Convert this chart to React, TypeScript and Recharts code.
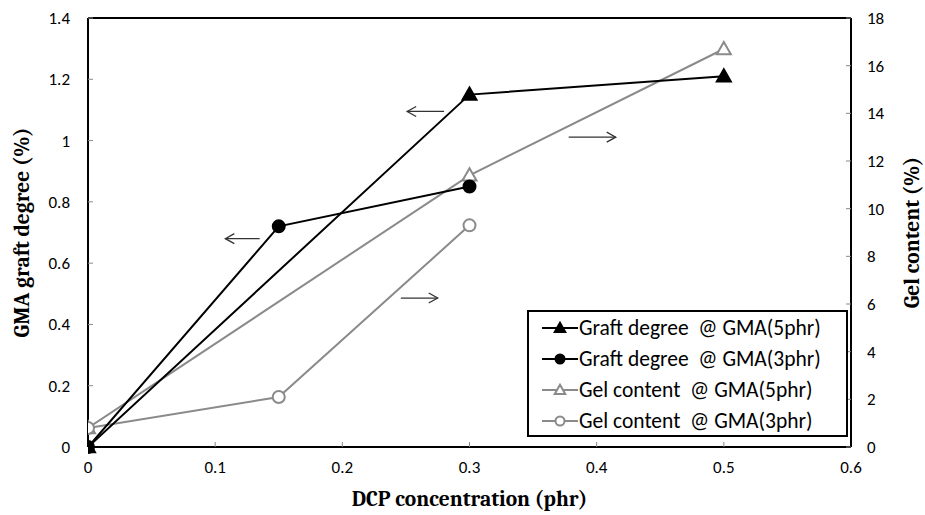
import { LineChart, Line, XAxis, YAxis, ReferenceLine } from "recharts"

const dcp5 = [0, 0.3, 0.5]
const dcp3 = [0, 0.15, 0.3]
const graft5 = [0, 1.15, 1.21]
const graft3 = [0, 0.72, 0.85]
const gel5 = [0.8, 11.4, 16.7]
const gel3 = [0.8, 2.1, 9.3]

const xTicks = [0, 0.1, 0.2, 0.3, 0.4, 0.5, 0.6]
const leftTicks = [0, 0.2, 0.4, 0.6, 0.8, 1, 1.2, 1.4]
const rightTicks = [0, 2, 4, 6, 8, 10, 12, 14, 16, 18]

// arrows: [x1, x2, y, axis, direction]
const arrows: [number, number, number, string, "left" | "right"][] = [
  [0.108, 0.135, 0.68, "left", "left"],
  [0.251, 0.28, 1.095, "left", "left"],
  [0.378, 0.415, 13.0, "right", "right"],
  [0.246, 0.275, 6.25, "right", "right"],
]

const legendItems = [
  { name: "Graft degree  @ GMA(5phr)", color: "#000", marker: "tri", filled: true },
  { name: "Graft degree  @ GMA(3phr)", color: "#000", marker: "circle", filled: true },
  { name: "Gel content  @ GMA(5phr)", color: "#8a8a8a", marker: "tri", filled: false },
  { name: "Gel content  @ GMA(3phr)", color: "#8a8a8a", marker: "circle", filled: false },
]

const toRows = (xs: number[], ys: number[]) => xs.map((x, i) => ({ x, y: ys[i] }))

const GRAY = "#8a8a8a"
const serif = "Cambria, 'Liberation Serif', 'DejaVu Serif', serif"
const sans = "Calibri, 'Open Sans', sans-serif"

function Marker({ cx, cy, kind, color, filled, size = 1 }: any) {
  if (cx == null || cy == null) return null
  const fill = filled ? color : "#fff"
  if (kind === "tri") {
    const r = 7 * size
    return (
      <polygon
        points={`${cx},${cy - r} ${cx - r},${cy + r * 0.75} ${cx + r},${cy + r * 0.75}`}
        fill={fill}
        stroke={color}
        strokeWidth={2}
      />
    )
  }
  return <circle cx={cx} cy={cy} r={6 * size} fill={fill} stroke={color} strokeWidth={2} />
}

const dotFn = (kind: string, color: string, filled: boolean) => (p: any) => (
  <Marker key={`${kind}-${p.index}`} cx={p.cx} cy={p.cy} kind={kind} color={color} filled={filled} />
)

const arrowShape = (dir: "left" | "right") => (p: any) => {
  const { x1, y1, x2 } = p
  const tip = dir === "left" ? Math.min(x1, x2) : Math.max(x1, x2)
  const back = dir === "left" ? 9 : -9
  return (
    <g stroke="#333" strokeWidth={1.3} fill="none">
      <line x1={x1} y1={y1} x2={x2} y2={y1} />
      <polyline points={`${tip + back},${y1 - 5} ${tip},${y1} ${tip + back},${y1 + 5}`} />
    </g>
  )
}

function LegendBox() {
  return (
    <div
      style={{
        position: "absolute",
        left: 527,
        top: 310,
        width: 321,
        height: 127,
        border: "2px solid #000",
        background: "#fff",
        fontFamily: sans,
        fontSize: 21.5,
        color: "#000",
        boxSizing: "border-box",
        paddingTop: 1,
      }}
    >
      {legendItems.map((it) => (
        <div key={it.name} style={{ display: "flex", alignItems: "center", height: 30.8 }}>
          <svg width={40} height={20} style={{ flex: "none", marginLeft: 11 }}>
            <line x1={2} y1={10} x2={38} y2={10} stroke={it.color} strokeWidth={2} />
            <Marker cx={20} cy={10} kind={it.marker} color={it.color} filled={it.filled} size={0.75} />
          </svg>
          <span style={{ marginLeft: -1, whiteSpace: "pre" }}>{it.name}</span>
        </div>
      ))}
    </div>
  )
}

export default function App() {
  const tickStyle = { fill: "#000", fontSize: 17, fontFamily: sans }
  const titleStyle = { fontFamily: serif, fontWeight: 700, fontSize: 21.5, fill: "#000" }
  return (
    <div style={{ position: "absolute", left: 0, top: 0, width: 925, height: 515, background: "#fff" }}>
      <LineChart width={925} height={515} margin={{ top: 18, right: 0, bottom: 0, left: 0 }}>
        <XAxis
          type="number"
          dataKey="x"
          domain={[0, 0.6]}
          ticks={xTicks}
          allowDataOverflow
          height={68}
          tick={tickStyle}
          tickSize={-5}
          tickMargin={19}
          tickLine={{ stroke: "#888" }}
          axisLine={{ stroke: "#000", strokeWidth: 2 }}
          label={{ value: "DCP concentration (phr)", position: "insideBottom", offset: 9, style: titleStyle }}
        />
        <YAxis
          yAxisId="left"
          type="number"
          domain={[0, 1.4]}
          ticks={leftTicks}
          width={88}
          tick={tickStyle}
          tickSize={-5}
          tickMargin={23}
          tickLine={{ stroke: "#888" }}
          axisLine={{ stroke: "#000", strokeWidth: 2 }}
          label={{ value: "GMA graft degree (%)", angle: -90, position: "insideLeft", offset: 21, style: { ...titleStyle, textAnchor: "middle" } }}
        />
        <YAxis
          yAxisId="right"
          orientation="right"
          type="number"
          domain={[0, 18]}
          ticks={rightTicks}
          width={74}
          tick={{ ...tickStyle, textAnchor: "start" }}
          tickSize={-5}
          tickMargin={21}
          tickLine={{ stroke: "#888" }}
          axisLine={{ stroke: "#000", strokeWidth: 2 }}
          label={{ value: "Gel content (%)", angle: -90, position: "insideRight", offset: 14, style: { ...titleStyle, textAnchor: "middle" } }}
        />
        <ReferenceLine yAxisId="left" y={1.4} stroke="#000" strokeWidth={2} />
        {arrows.map(([a, b, y, axis, dir], i) => (
          <ReferenceLine
            key={i}
            yAxisId={axis}
            segment={[{ x: a, y }, { x: b, y }]}
            shape={arrowShape(dir)}
          />
        ))}
        <Line
          yAxisId="right"
          data={toRows(dcp5, gel5)}
          dataKey="y"
          stroke={GRAY}
          strokeWidth={2}
          dot={dotFn("tri", GRAY, false)}
          isAnimationActive={false}
        />
        <Line
          yAxisId="right"
          data={toRows(dcp3, gel3)}
          dataKey="y"
          stroke={GRAY}
          strokeWidth={2}
          dot={dotFn("circle", GRAY, false)}
          isAnimationActive={false}
        />
        <Line
          yAxisId="left"
          data={toRows(dcp5, graft5)}
          dataKey="y"
          stroke="#000"
          strokeWidth={2}
          dot={dotFn("tri", "#000", true)}
          isAnimationActive={false}
        />
        <Line
          yAxisId="left"
          data={toRows(dcp3, graft3)}
          dataKey="y"
          stroke="#000"
          strokeWidth={2}
          dot={dotFn("circle", "#000", true)}
          isAnimationActive={false}
        />
      </LineChart>
      <LegendBox />
    </div>
  )
}
